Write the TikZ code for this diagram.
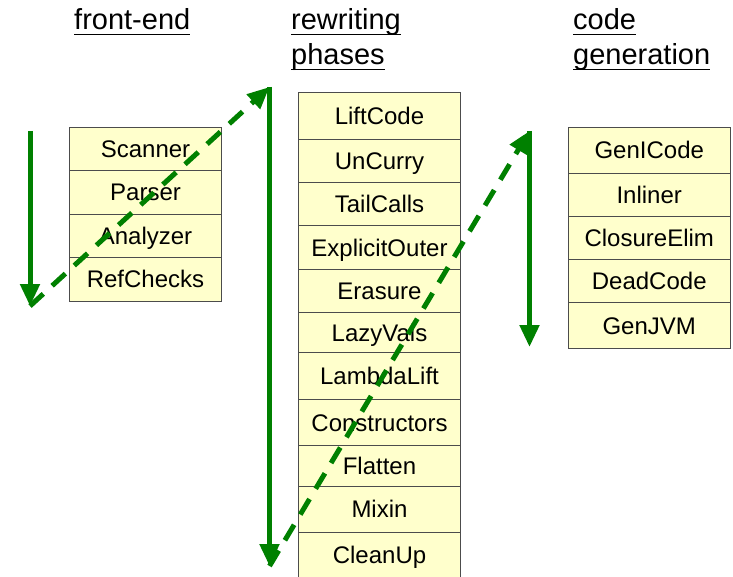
\documentclass[tikz,border=0pt]{standalone}
\usepackage{fontspec}
\setmainfont{Liberation Sans}
\usetikzlibrary{arrows.meta}
\definecolor{cellfill}{HTML}{FFFFCC}
\definecolor{flow}{HTML}{008000}
\begin{document}
\begin{tikzpicture}[x=1pt,y=-1pt,
  cell/.style={draw=black!70, line width=0.8pt, fill=cellfill,
    font=\fontsize{24}{28}\selectfont, text height=17.2pt, text depth=0pt,
    inner sep=0pt, anchor=center},
  fecell/.style={cell, minimum width=152pt},
  rwcell/.style={cell, minimum width=162pt},
  cgcell/.style={cell, minimum width=161.5pt},
  hdr/.style={font=\fontsize{29}{34}\selectfont, inner sep=0pt, anchor=base west},
  uline/.style={line width=1.6pt},
  flowline/.style={draw=flow, line width=5pt, -{Triangle[length=22pt,width=19pt]}},
  flowdash/.style={flowline, dash pattern=on 18pt off 12pt}]
\useasboundingbox (0,0) rectangle (733,577);

% headers
\node[hdr] (h1) at (74,30) {front-end};
\node[hdr] (h2a) at (291,30) {rewriting};
\node[hdr] (h2b) at (291,65) {phases};
\node[hdr] (h3a) at (573,30) {code};
\node[hdr] (h3b) at (573,65) {generation};
\foreach \h in {h1,h2a,h2b,h3a,h3b}
  \draw[uline] ([yshift=-4.5pt]\h.base west) -- ([yshift=-4.5pt]\h.base east);

% front-end
\node[fecell, minimum height=43.5pt] (scanner) at (145.5,148.75) {Scanner};
\node[fecell, minimum height=43.5pt] (parser) at (145.5,192.25) {Parser};
\node[fecell, minimum height=43.5pt] (analyzer) at (145.5,235.75) {Analyzer};
\node[fecell, minimum height=43.5pt] (refchecks) at (145.5,279.25) {RefChecks};

% rewriting phases
\node[rwcell, minimum height=46.3pt] (liftcode) at (379.5,115.85) {LiftCode};
\node[rwcell, minimum height=43.3pt] (uncurry) at (379.5,160.65) {UnCurry};
\node[rwcell, minimum height=43.4pt] (tailcalls) at (379.5,204) {TailCalls};
\node[rwcell, minimum height=43.6pt] (explicitouter) at (379.5,247.5) {ExplicitOuter};
\node[rwcell, minimum height=43pt] (erasure) at (379.5,290.8) {Erasure};
\node[rwcell, minimum height=40.4pt] (lazyvals) at (379.5,332.5) {LazyVals};
\node[rwcell, minimum height=46.6pt] (lambdalift) at (379.5,376) {LambdaLift};
\node[rwcell, minimum height=46.4pt] (constructors) at (379.5,422.5) {Constructors};
\node[rwcell, minimum height=40.3pt] (flatten) at (379.5,465.85) {Flatten};
\node[rwcell, minimum height=46.3pt] (mixin) at (379.5,509.15) {Mixin};
\node[rwcell, minimum height=45.7pt] (cleanup) at (379.5,555.15) {CleanUp};

% code generation
\node[cgcell, minimum height=46pt] (genicode) at (649.25,150.3) {GenICode};
\node[cgcell, minimum height=42.7pt] (inliner) at (649.25,194.65) {Inliner};
\node[cgcell, minimum height=43.3pt] (closureelim) at (649.25,237.65) {ClosureElim};
\node[cgcell, minimum height=43.4pt] (deadcode) at (649.25,281) {DeadCode};
\node[cgcell, minimum height=45.6pt] (genjvm) at (649.25,325.5) {GenJVM};

% flow arrows
\coordinate (s1a) at (30,131);
\coordinate (s1b) at (30,306);
\coordinate (s2a) at (269.5,87);
\coordinate (s2b) at (269.5,566);
\coordinate (s3a) at (529.5,131);
\coordinate (s3b) at (529.5,347);
\draw[flowline] (s1a) -- (s1b);
\draw[flowdash] (s1b) -- (s2a);
\draw[flowline] (s2a) -- (s2b);
\draw[flowdash] (s2b) -- (s3a);
\draw[flowline] (s3a) -- (s3b);
\end{tikzpicture}
\end{document}
